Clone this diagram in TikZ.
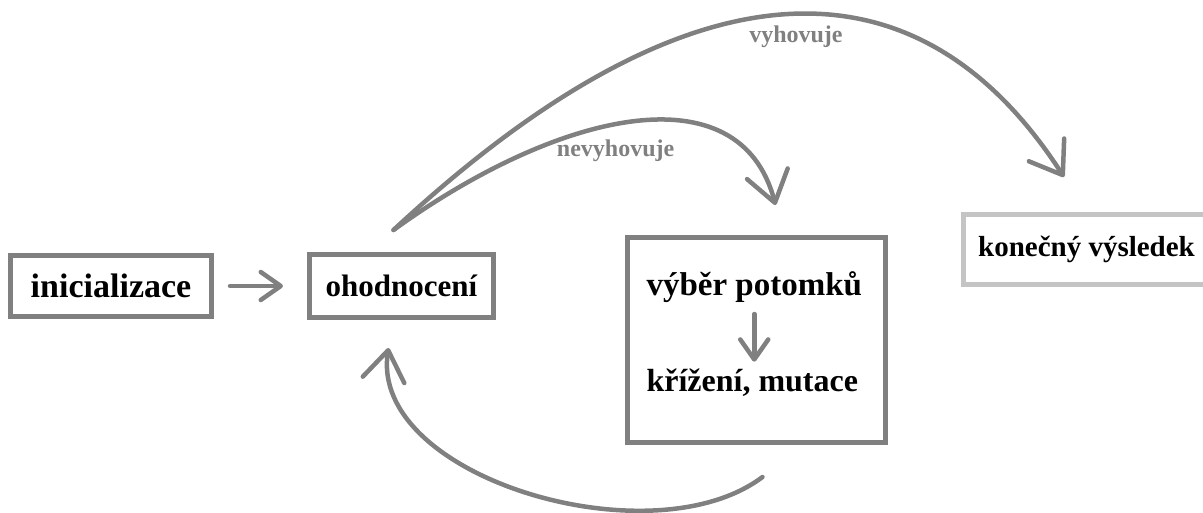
\documentclass[tikz,border=0pt]{standalone}
\usepackage{fontspec}
\setmainfont{Liberation Serif}
\usetikzlibrary{arrows.meta}
\definecolor{boxgray}{RGB}{128,128,128}
\definecolor{pale}{RGB}{196,196,196}

\begin{document}
\begin{tikzpicture}[x=1pt,y=-1pt,auto,->,
    >={Straight Barb[length=20pt,width=28pt,round]},
    box/.style={draw=boxgray,line width=5pt},
    arr/.style={draw=boxgray,line width=4.5pt,line cap=round},
    curv/.style={arr,>={Straight Barb[length=30pt,width=42pt,round]}},
    lbl/.style={text=boxgray,font=\bfseries\fontsize{24}{28}\selectfont}]
      \useasboundingbox (0,0) rectangle (1203,512);
      \node[box,minimum width=201pt,minimum height=61pt,font=\bfseries\fontsize{34}{40}\selectfont] (ini) at (111,286) {inicializace};
      \node[box,minimum width=184pt,minimum height=63pt,font=\bfseries\fontsize{31}{36}\selectfont] (oh) at (401.5,286) {ohodnocení};
      \node[box,minimum width=258pt,minimum height=205pt] (sel) at (756.5,340) {};
      \node[anchor=west,font=\bfseries\fontsize{33}{38}\selectfont] (vp) at (643,287) {výběr potomků};
      \node[anchor=west,font=\bfseries\fontsize{32}{38}\selectfont] (km) at (643,383) {křížení, mutace};
      \node[box,draw=pale,minimum width=246pt,minimum height=70pt,font=\bfseries\fontsize{29}{34}\selectfont] (ko) at (1086.5,249.5) {konečný výsledek};
      \draw[arr,shorten <=16pt,shorten >=24pt] (ini) -- (oh);
      \draw[arr,shorten <=8pt,shorten >=4pt] (vp.south) -- (vp.south |- km.north);
      \draw[curv] ([xshift=-8pt,yshift=22pt]oh.north) .. controls (558,111) and (740,69) .. ([xshift=-311pt,yshift=7pt]ko.north)
        node[lbl,pos=0.46,below=10pt] {nevyhovuje};
      \draw[curv] ([xshift=-8pt,yshift=22pt]oh.north) .. controls (686,-42) and (915,-54) .. ([xshift=-22.5pt,yshift=35pt]ko.north)
        node[lbl,pos=0.52,below=6pt] {vyhovuje};
      \draw[curv] ([xshift=6pt,yshift=-32pt]sel.south) .. controls (651,561) and (368.5,476.7) .. ([xshift=-13pt,yshift=-28pt]oh.south);
    \end{tikzpicture}
\end{document}
